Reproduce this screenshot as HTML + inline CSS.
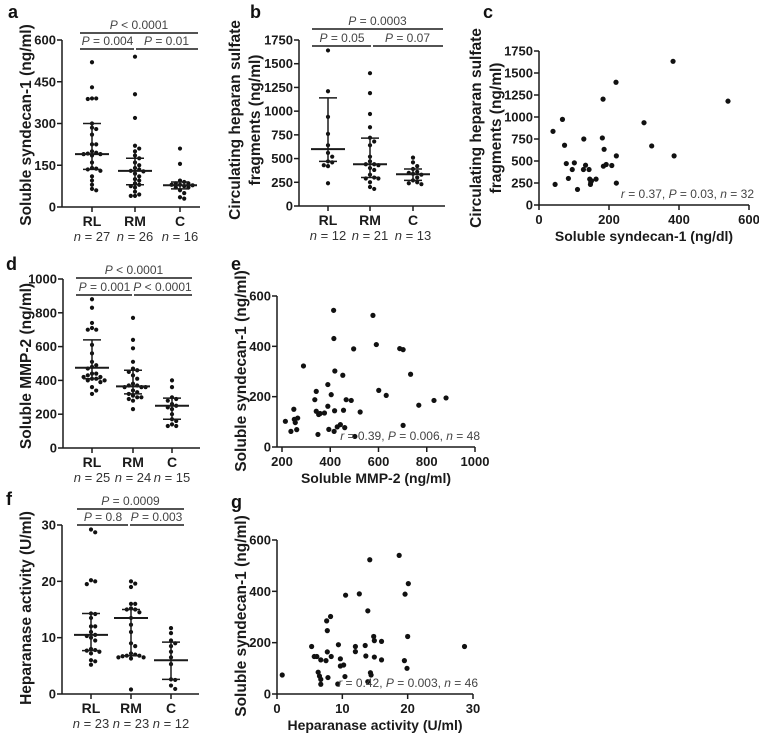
<!DOCTYPE html>
<html><head><meta charset="utf-8"><style>
html,body{margin:0;padding:0;background:#fff;}
svg{display:block;font-family:"Liberation Sans",Arial,sans-serif;}
.tick{font-size:13px;font-weight:bold;fill:#1a1a1a;}
.ttl{font-size:15.5px;font-weight:bold;fill:#1a1a1a;}
.xttl{font-size:14px;font-weight:bold;fill:#1a1a1a;}
.cat{font-size:14px;font-weight:bold;fill:#1a1a1a;}
.pv{font-size:12px;fill:#444;}
.nl{font-size:13px;fill:#333;}
.plab{font-size:18px;font-weight:bold;fill:#111;}
</style></head><body>
<svg id="fig" width="759" height="739" viewBox="0 0 759 739"></svg>
<script>
// ---- Data arrays ----
const catsA = ["RL","RM","C"];
const nA = [27,26,16];
const aRL = [520,430,390,388,390,300,285,280,260,225,225,200,195,192,190,190,185,160,140,138,135,130,110,95,80,65,60];
const aRM = [540,405,320,220,210,200,185,175,160,150,140,135,130,128,120,110,100,95,85,80,75,70,55,45,40,40];
const aC = [210,155,95,90,85,85,80,80,78,75,70,70,60,50,35,30];
const aMed = [190,130,78], aQ3 = [300,175,90], aQ1 = [135,80,65];
const ticksA = [0,150,300,450,600];
const pA = ["P < 0.0001","P = 0.004","P = 0.01"];

const nB = [12,21,13];
const bRL = [1640,1210,940,760,640,560,520,470,460,430,420,240];
const bRM = [1400,1190,970,830,720,680,640,520,470,440,440,430,400,380,330,300,290,290,250,200,180];
const bC = [510,460,420,390,360,350,340,330,300,270,250,240,230];
const bMed = [600,440,335], bQ3 = [1140,715,390], bQ1 = [470,300,270];
const ticksB = [0,250,500,750,1000,1250,1500,1750];
const pB = ["P = 0.0003","P = 0.05","P = 0.07"];

const cX = [40,46,67,73,78,84,101,95,110,128,127,133,143,145,147,163,181,183,186,184,192,208,220,221,221,300,322,383,386,540,148,150];
const cY = [837,234,973,679,471,302,479,403,177,750,403,452,403,294,234,294,762,1203,633,441,460,449,1395,558,249,935,671,1633,558,1180,260,275];
const ticksCx = [0,200,400,600];
const ticksCy = [0,250,500,750,1000,1250,1500,1750];

const nD = [25,24,15];
const dRL = [880,830,740,710,700,700,610,560,510,490,480,470,440,430,420,410,410,400,400,420,440,390,360,340,320];
const dRM = [770,640,590,510,470,460,450,430,410,380,370,370,360,360,340,330,320,310,300,300,290,280,230,360];
const dC = [400,360,300,290,280,260,250,240,230,200,170,160,140,130,130];
const dMed = [475,365,250], dQ3 = [640,460,295], dQ1 = [410,320,170];
const ticksD = [0,200,400,600,800,1000];
const pD = ["P < 0.0001","P = 0.001","P < 0.0001"];

const eX = [214,237,249,251,255,265,261,289,336,342,342,352,358,376,349,390,390,394,404,419,414,415,418,416,429,442,452,455,460,466,487,497,502,524,577,591,601,632,688,702,702,733,767,830,880];
const eY = [102,62,150,110,97,115,69,322,188,221,142,129,133,135,50,248,162,70,208,302,543,431,144,62,80,89,285,146,77,188,185,390,42,139,523,407,225,205,391,387,86,289,166,185,195];
const ticksEx = [200,400,600,800,1000];
const ticksEy = [0,200,400,600];

const nF = [23,23,12];
const fRL = [29.2,28.7,20,20.2,19.5,14.3,14.2,13.5,12,12,11,10.5,10.3,10,9.5,8,7.8,7.7,7.5,7.2,6,5.8,5.2];
const fRM = [20,19.6,19,16,16,15.2,15,15,14.5,13.5,12.3,11,9,8.5,7.2,7,6.8,6.8,6.7,6.5,6.5,6.3,0.8];
const fC = [11.7,10.8,9.5,9,8.5,7.5,6.5,5.3,2.6,2.5,1.5,0.9];
const fMed = [10.5,13.5,6], fQ3 = [14.3,15,9.2], fQ1 = [7.7,6.8,2.6];
const ticksF = [0,10,20,30];
const pF = ["P = 0.0009","P = 0.8","P = 0.003"];

const gX = [0.8,5.3,5.7,6.1,6.3,6.5,6.7,6.7,6.7,7.5,7.6,7.7,7.7,7.8,8.2,8.3,9.3,9.4,9.7,9.7,10.2,10.4,10.5,12.0,12.0,12.6,13.5,13.6,13.9,13.9,14.2,14.3,14.4,14.8,14.9,14.9,16.0,16.0,18.7,19.6,19.5,19.9,20.1,20.0,28.7];
const gY = [74,185,146,146,85,70,133,57,38,130,285,247,164,64,302,146,39,192,137,109,113,68,385,165,185,390,189,148,324,48,523,83,74,224,208,144,133,205,540,389,130,100,430,224,185];
const ticksGx = [0,10,20,30];
const ticksGy = [0,200,400,600];

// ---- Helpers ----
const NS = "http://www.w3.org/2000/svg";
const svg = document.getElementById("fig");
function mk(tag, attrs, parent){ const e=document.createElementNS(NS,tag); for(const k in attrs) e.setAttribute(k,attrs[k]); (parent||svg).appendChild(e); return e; }
function line(x1,y1,x2,y2,w,p){ return mk("line",{x1,y1,x2,y2,stroke:"#1a1a1a","stroke-width":w||1.5},p); }
function txt(x,y,s,cls,anchor,p){ const t=mk("text",{x,y,class:cls,"text-anchor":anchor||"middle"},p); t.innerHTML=s; return t; }
function ptext(s){ return s.replace(/^P/,'<tspan font-style="italic">P</tspan>'); }

function yAxis(g, x, sc, ticks, top, bottom){
  const ax=line(x,top,x,bottom,1.5,g);
  
  
  ticks.forEach(v=>{ const y=sc(v); line(x-5,y,x,y,1.5,g);
    const t=txt(x-6,y+4.5,String(v),"tick","end",g);
    
     });
}
function yTitle(g, x, cy, lines){
  lines.forEach((s,i)=>{ const t=txt(0,0,s,"ttl","middle",g);
    t.setAttribute("transform",`translate(${x+i*20},${cy}) rotate(-90)`);
    
     });
}

function dotPlot(o){
  const g=mk("g",{});
  
  
  const sc=v=>o.y0-(v/o.max)*(o.y0-o.yMax);
  const pl=txt(o.lx,o.ly,o.label,"plab","start",g);
  
  
  yAxis(g,o.ax,sc,o.ticks,o.yMax,o.y0);
  const xa=line(o.ax,o.y0,o.xEnd,o.y0,1.5,g);
  
  
  yTitle(g,o.tx,o.ty,o.title);
  o.cats.forEach((c,i)=>{
    const cx=o.cx[i];
    line(cx,o.y0,cx,o.y0+5,1.5,g);
    const cl=txt(cx,o.y0+19,c,"cat","middle",g);
    
    
    const nl=txt(cx,o.y0+34,'<tspan font-style="italic">n</tspan> = '+o.n[i],"nl","middle",g);
    
    
    const vals=o.series[i].slice().sort((a,b)=>b-a); const placed=[];
    vals.forEach(v=>{ const y=sc(v); let off=0;
      for(let k=0;k<30;k++){ const cand=(k%2?1:-1)*Math.ceil(k/2)*4.2;
        if(!placed.some(p=>Math.hypot(p[0]-cand,p[1]-y)<4.0)){off=cand;break;} }
      placed.push([off,y]);
      const d=mk("circle",{cx:cx+off,cy:y,r:2.1,fill:"#111"},g);
      
       });
    const m=line(cx-17,sc(o.med[i]),cx+17,sc(o.med[i]),2,g);
    
    
    const eb=line(cx,sc(o.q3[i]),cx,sc(o.q1[i]),1.5,g);
    
    
    line(cx-9,sc(o.q3[i]),cx+9,sc(o.q3[i]),1.5,g);
    line(cx-9,sc(o.q1[i]),cx+9,sc(o.q1[i]),1.5,g);
  });
  const b=o.br;
  const b1=line(b.x1,b.yTop,b.x2,b.yTop,1.5,g);
  
  
  line(b.x1,b.yLow,b.mid-1,b.yLow,1.5,g);
  line(b.mid+1,b.yLow,b.x2,b.yLow,1.5,g);
  const t0=txt((b.x1+b.x2)/2,b.yTop-4,ptext(o.p[0]),"pv","middle",g);
  
  
  const t1=txt((b.x1+b.mid)/2,b.yLow-4,ptext(o.p[1]),"pv","middle",g);
  
  
  const t2=txt((b.mid+b.x2)/2,b.yLow-4,ptext(o.p[2]),"pv","middle",g);
  
  
}

function scatter(o){
  const g=mk("g",{});
  
  
  const sx=v=>o.x0+(v-o.xmin)/(o.xmax-o.xmin)*(o.x1-o.x0);
  const sy=v=>o.y0-(v-o.ymin)/(o.ymax-o.ymin)*(o.y0-o.y1);
  const pl=txt(o.lx,o.ly,o.label,"plab","start",g);
  
  
  yAxis(g,o.ax,sy,o.ty,o.y1,o.y0);
  const xa=line(o.ax,o.y0,o.x1,o.y0,1.5,g);
  
  
  o.tx.forEach(v=>{ const x=sx(v); line(x,o.y0,x,o.y0+5,1.5,g);
    const t=txt(x,o.y0+19,String(v),"tick","middle",g);
    
     });
  const xt=txt((o.ax+o.x1)/2,o.y0+36,o.xTitle,"xttl","middle",g);
  
  
  yTitle(g,o.ytx,o.yty,o.yTitle);
  o.xs.forEach((v,i)=>{ const d=mk("circle",{cx:sx(v),cy:sy(o.ys[i]),r:2.6,fill:"#111"},g);
    
     });
  const an=txt(o.x1+5,o.y0-7,o.ann,"pv","end",g);
  
  
}

dotPlot({name:"panel-a",label:"a",lx:8,ly:18,ax:62,xEnd:200,y0:207,yMax:40,max:600,ticks:ticksA,
  tx:31,ty:125,title:["Soluble syndecan-1 (ng/ml)"],cats:catsA,cx:[92,135,180],n:nA,
  series:[aRL,aRM,aC],med:aMed,q3:aQ3,q1:aQ1,p:pA,br:{x1:80,x2:198,mid:135,yTop:33,yLow:49}});
dotPlot({name:"panel-b",label:"b",lx:250,ly:18,ax:299,xEnd:445,y0:206,yMax:40,max:1750,ticks:ticksB,
  tx:240,ty:120,title:["Circulating heparan sulfate","fragments (ng/ml)"],cats:catsA,cx:[328,370,413],n:nB,
  series:[bRL,bRM,bC],med:bMed,q3:bQ3,q1:bQ1,p:pB,br:{x1:312,x2:443,mid:372,yTop:29,yLow:46}});
scatter({name:"panel-c",label:"c",lx:483,ly:18,ax:539,x0:539,x1:749,xmin:0,xmax:600,y0:205,y1:51,ymin:0,ymax:1750,
  tx:ticksCx,ty:ticksCy,xs:cX,ys:cY,xTitle:"Soluble syndecan-1 (ng/dl)",ytx:481,yty:128,
  yTitle:["Circulating heparan sulfate","fragments (ng/ml)"],ann:'<tspan font-style="italic">r</tspan> = 0.37, <tspan font-style="italic">P</tspan> = 0.03, <tspan font-style="italic">n</tspan> = 32'});
dotPlot({name:"panel-d",label:"d",lx:6,ly:270,ax:63,xEnd:200,y0:448,yMax:279,max:1000,ticks:ticksD,
  tx:31,ty:366,title:["Soluble MMP-2 (ng/ml)"],cats:catsA,cx:[92,133,172],n:nD,
  series:[dRL,dRM,dC],med:dMed,q3:dQ3,q1:dQ1,p:pD,br:{x1:76,x2:192,mid:133,yTop:278,yLow:295}});
scatter({name:"panel-e",label:"e",lx:231,ly:270,ax:277,x0:282,x1:475,xmin:200,xmax:1000,y0:447,y1:296,ymin:0,ymax:600,
  tx:ticksEx,ty:ticksEy,xs:eX,ys:eY,xTitle:"Soluble MMP-2 (ng/ml)",ytx:246,yty:371,
  yTitle:["Soluble syndecan-1 (ng/ml)"],ann:'<tspan font-style="italic">r</tspan> = 0.39, <tspan font-style="italic">P</tspan> = 0.006, <tspan font-style="italic">n</tspan> = 48'});
dotPlot({name:"panel-f",label:"f",lx:6,ly:505,ax:62,xEnd:199,y0:694,yMax:525,max:30,ticks:ticksF,
  tx:31,ty:608,title:["Heparanase activity (U/ml)"],cats:catsA,cx:[91,131,171],n:nF,
  series:[fRL,fRM,fC],med:fMed,q3:fQ3,q1:fQ1,p:pF,br:{x1:77,x2:184,mid:129,yTop:509,yLow:525}});
scatter({name:"panel-g",label:"g",lx:231,ly:508,ax:277,x0:277,x1:473,xmin:0,xmax:30,y0:694,y1:540,ymin:0,ymax:600,
  tx:ticksGx,ty:ticksGy,xs:gX,ys:gY,xTitle:"Heparanase activity (U/ml)",ytx:246,yty:616,
  yTitle:["Soluble syndecan-1 (ng/ml)"],ann:'<tspan font-style="italic">r</tspan> = 0.42, <tspan font-style="italic">P</tspan> = 0.003, <tspan font-style="italic">n</tspan> = 46'});
</script>
</body></html>
